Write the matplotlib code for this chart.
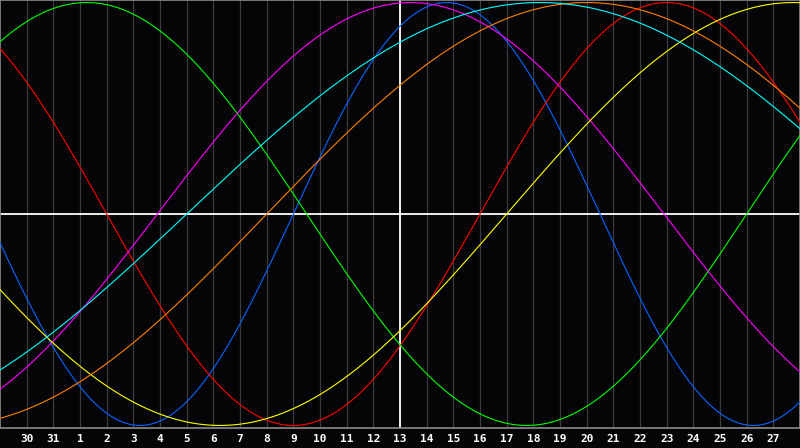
import numpy as np
import matplotlib
matplotlib.use("Agg")
import matplotlib.pyplot as plt

# Biorhythm cycles: length in days and day-in-cycle at the left edge of the chart
cycle_names = ["physical", "emotional", "intellectual", "intuitive",
               "aesthetic", "awareness", "spiritual"]
cycle_days = [23, 28, 33, 38, 43, 48, 53]
cycle_start = [12.0, 10.0, 5.0, 32.1, 24.0, 38.0, 46.0]
cycle_colors = ["#0a64ff", "#ff0000", "#00ff00", "#ff00ff",
                "#ffff00", "#ff8000", "#00ffff"]

# day labels along the bottom (one per grid line)
day_labels = ["30", "31", "1", "2", "3", "4", "5", "6", "7", "8", "9", "10",
              "11", "12", "13", "14", "15", "16", "17", "18", "19", "20",
              "21", "22", "23", "24", "25", "26", "27"]
today_label = "13"
span_days = 30

fig = plt.figure(figsize=(8, 4.48), dpi=100, facecolor="#050508")
ax = fig.add_axes([0.0, 20 / 448, 1.0, 428 / 448])
ax.set_facecolor("#050508")

t = np.linspace(0, span_days, 1200)
for period, start, color in zip(cycle_days, cycle_start, cycle_colors):
    ax.plot(t, np.sin(2 * np.pi * (t + start) / period), color=color,
            linewidth=0.8, zorder=3)

ticks = np.arange(1, len(day_labels) + 1)
for x in ticks:
    ax.axvline(x, color="#3c3c3c", linewidth=0.9, zorder=1)

ax.axhline(0, color="white", linewidth=1.3, zorder=2)
ax.axvline(ticks[day_labels.index(today_label)], color="white", linewidth=1.3, zorder=2)

ax.set_xlim(0, span_days)
ax.set_ylim(-1.012, 1.012)
ax.set_yticks([])
ax.set_xticks(ticks)
ax.set_xticklabels(day_labels, color="white", fontsize=8,
                   fontfamily="DejaVu Sans Mono", fontweight="bold")
ax.tick_params(axis="x", length=0, pad=4)
for side in ax.spines.values():
    side.set_color("#8c8c8c")
    side.set_linewidth(1.2)

fig.savefig("out.png", dpi=100, facecolor=fig.get_facecolor())
